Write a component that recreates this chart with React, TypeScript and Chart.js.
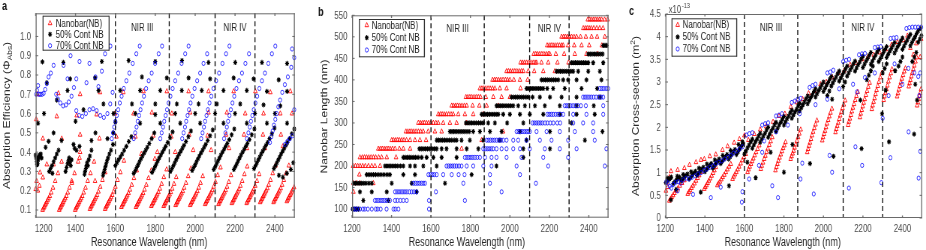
import React, { useEffect, useRef } from "react";
import { Chart, registerables } from "chart.js";
Chart.register(...registerables);

type P = [number, number];

// ---------------- shared axis data ----------------
const X_TICKS = [1200, 1400, 1600, 1800, 2000, 2200, 2400];
const X_LABELS = ["1200", "1400", "1600", "1800", "2000", "2200", "2400"];
const X_MIN = 1200;
const X_MAX = 2500;
const REGION_LINES = [1600, 1870, 2100, 2300];
const REGION_NAMES = ["NIR III", "NIR IV"];
const REGION_SPANS: P[] = [[1600, 1870], [2100, 2300]];
const SERIES_NAMES = ["Nanobar(NB)", "50% Cont NB", "70% Cont NB"];
const X_TITLE = "Resonance Wavelength (nm)";

// ---------------- panel a : absorption efficiency ----------------
const A_Y_TICKS = [0.1, 0.2, 0.3, 0.4, 0.5, 0.6, 0.7, 0.8, 0.9, 1.0];
const A_Y_LABELS = ["0.1", "0.2", "0.3", "0.4", "0.5", "0.6", "0.7", "0.8", "0.9", "1.0"];

const A_RED: P[] = [
  [1235,.10],[1239,.108],[1243,.116],[1247,.124],[1251,.132],[1255,.14],[1260,.15],[1265,.16],[1271,.172],[1278,.19],[1287,.215],[1298,.25],[1312,.29],[1330,.35],
  [1318,.10],[1322,.108],[1326,.116],[1330,.124],[1334,.132],[1338,.14],[1343,.15],[1348,.16],[1354,.172],[1361,.19],[1370,.215],[1381,.25],[1395,.29],[1413,.35],
  [1398,.10],[1402,.108],[1406,.116],[1410,.124],[1414,.132],[1418,.14],[1423,.15],[1428,.16],[1434,.172],[1441,.19],[1450,.215],[1461,.25],[1475,.29],[1493,.35],
  [1472,.105],[1476,.113],[1480,.121],[1484,.129],[1488,.137],[1492,.145],[1497,.155],[1502,.165],[1508,.177],[1515,.195],[1524,.22],[1535,.255],[1549,.295],
  [1548,.105],[1552,.113],[1556,.121],[1560,.129],[1564,.137],[1568,.145],[1573,.155],[1578,.165],[1584,.177],[1591,.195],[1600,.22],[1611,.255],[1625,.295],[1643,.355],
  [1630,.115],[1634,.123],[1638,.131],[1642,.139],[1646,.147],[1650,.155],[1655,.165],[1660,.175],[1666,.187],[1673,.205],[1682,.23],[1693,.265],[1707,.305],
  [1703,.115],[1707,.123],[1711,.131],[1715,.139],[1719,.147],[1723,.155],[1728,.165],[1733,.175],[1739,.187],[1746,.205],[1755,.23],[1766,.265],[1780,.305],[1798,.365],
  [1780,.12],[1784,.128],[1788,.136],[1792,.144],[1796,.152],[1800,.16],[1805,.17],[1810,.18],[1816,.192],[1823,.21],[1832,.235],[1843,.27],[1857,.31],
  [1842,.12],[1846,.128],[1850,.136],[1854,.144],[1858,.152],[1862,.16],[1867,.17],[1872,.18],[1878,.192],[1885,.21],[1894,.235],[1905,.27],
  [1902,.125],[1906,.133],[1910,.141],[1914,.149],[1918,.157],[1922,.165],[1927,.175],[1932,.185],[1938,.197],[1945,.215],[1954,.24],[1965,.275],[1979,.315],
  [1975,.125],[1979,.133],[1983,.141],[1987,.149],[1991,.157],[1995,.165],[2000,.175],[2005,.185],[2011,.197],[2018,.215],[2027,.24],[2038,.275],
  [2050,.13],[2054,.138],[2058,.146],[2062,.154],[2066,.162],[2070,.17],[2075,.18],[2080,.19],[2086,.202],[2093,.22],[2102,.245],[2113,.28],[2127,.32],
  [2117,.13],[2121,.138],[2125,.146],[2129,.154],[2133,.162],[2137,.17],[2142,.18],[2147,.19],[2153,.202],[2160,.22],[2169,.245],[2180,.28],
  [2184,.135],[2188,.143],[2192,.151],[2196,.159],[2200,.167],[2204,.175],[2209,.185],[2214,.195],[2220,.207],[2227,.225],[2236,.25],[2247,.285],[2261,.325],
  [2258,.135],[2262,.143],[2266,.151],[2270,.159],[2274,.167],[2278,.175],[2283,.185],[2288,.195],[2294,.207],[2301,.225],[2310,.25],[2321,.285],
  [2326,.14],[2330,.148],[2334,.156],[2338,.164],[2342,.172],[2346,.18],[2351,.19],[2356,.2],[2362,.212],[2369,.23],[2378,.255],[2389,.29],[2403,.33],
  [2393,.14],[2397,.148],[2401,.156],[2405,.164],[2409,.172],[2413,.18],[2418,.19],[2423,.2],[2429,.212],[2436,.23],[2445,.255],[2456,.29],[2470,.33],
  [2460,.145],[2464,.153],[2468,.161],[2472,.169],[2476,.177],[2480,.185],[2485,.195],[2490,.205],[2496,.217],
  [1200,.208],[1205,.25],[1211,.2],[1219,.225],[1222,.294],[1236,.268],[1256,.336],[1290,.336],[1382,.24],[1420,.37],[1423,.40],[1498,.25],
  [1730,.39],[1810,.40],[1900,.40],[1990,.41],[2080,.41],[2170,.42],[2260,.42],[2350,.42],[2440,.43],
  [1236,.47],[1331,.47],[1423,.49],[1520,.47],[1605,.48],[1700,.48],[1790,.485],[1880,.48],[1970,.49],[2062,.485],[2155,.49],[2245,.49],[2340,.49],[2430,.49],
  [1203,.57],[1306,.585],[1406,.59],[1506,.595],[1598,.6],[1691,.6],[1783,.605],[1883,.6],[1975,.605],[2067,.605],[2159,.605],[2251,.6],[2343,.6],[2427,.6],[2486,.6],
  [1209,.70],[1314,.705],[1423,.70],[1523,.71],[1640,.71],[1741,.715],[1858,.715],[1967,.715],[2067,.715],[2193,.715],[2302,.715],[2377,.71],[2477,.715],
];

const A_BLACK: P[] = [
  [1200,.385],[1203,.37],[1205,.35],[1207,.335],[1210,.34],[1213,.36],[1216,.375],[1219,.385],[1222,.38],[1226,.39],[1230,.37],
  [1268,.30],[1275,.315],[1282,.33],[1290,.35],[1298,.37],[1306,.39],[1315,.41],
  [1350,.30],[1355,.32],[1360,.34],[1364,.355],[1368,.37],[1372,.345],[1376,.33],[1380,.36],[1395,.42],[1405,.41],[1420,.43],
  [1445,.285],[1448,.30],[1452,.315],[1455,.33],[1458,.345],[1462,.33],[1466,.36],[1472,.38],[1480,.41],
  [1538,.28],[1542,.295],[1546,.31],[1550,.325],[1554,.34],[1558,.355],[1563,.37],[1570,.39],[1578,.41],[1588,.44],
  [1600,.33],[1608,.345],[1616,.36],[1625,.375],[1634,.39],[1644,.41],[1655,.43],[1667,.455],[1680,.48],
  [1692,.29],[1700,.305],[1707,.32],[1714,.335],[1721,.35],[1728,.365],[1736,.38],[1744,.395],[1752,.41],[1760,.425],[1770,.445],[1782,.47],[1795,.50],
  [1784,.295],[1792,.31],[1799,.325],[1806,.34],[1813,.355],[1820,.37],[1828,.385],[1836,.40],[1844,.415],[1852,.43],[1862,.45],[1874,.475],[1887,.505],
  [1876,.30],[1884,.315],[1891,.33],[1898,.345],[1905,.36],[1912,.375],[1920,.39],[1928,.405],[1936,.42],[1944,.435],[1954,.455],[1966,.48],[1979,.51],
  [1985,.305],[1993,.32],[2000,.335],[2007,.35],[2014,.365],[2021,.38],[2029,.395],[2037,.41],[2045,.425],[2053,.44],[2063,.46],[2075,.485],[2088,.515],
  [2093,.31],[2101,.325],[2108,.34],[2115,.355],[2122,.37],[2129,.385],[2137,.40],[2145,.415],[2153,.43],[2161,.445],[2171,.465],[2183,.49],[2196,.52],
  [2194,.31],[2202,.325],[2209,.34],[2216,.355],[2223,.37],[2230,.385],[2238,.40],[2246,.415],[2254,.43],[2262,.445],[2272,.465],[2284,.49],[2297,.52],
  [2295,.315],[2303,.33],[2310,.345],[2317,.36],[2324,.375],[2331,.39],[2339,.405],[2347,.42],[2355,.435],[2363,.45],[2373,.47],[2385,.495],[2398,.525],
  [2395,.315],[2403,.33],[2410,.345],[2417,.36],[2424,.375],[2431,.39],[2439,.405],[2447,.42],[2455,.435],[2463,.45],[2473,.47],[2485,.495],[2497,.52],
  [2420,.28],[2440,.27],[2460,.29],[2480,.31],[2492,.345],
  [1250,.425],[1265,.456],[1284,.29],[1290,.50],[1330,.46],[1390,.44],[1480,.46],[1500,.50],[1560,.47],[1590,.50],
  [1212,.55],[1242,.60],[1256,.76],[1234,.868],
  [1339,.865],[1532,.87],[1666,.875],[1800,.87],[1934,.875],[2067,.865],[2201,.865],[2335,.865],[2461,.86],
  [1373,.78],[1498,.785],[1733,.79],[1858,.785],[1967,.785],[2075,.78],[2193,.785],[2293,.78],[2419,.775],
  [1360,.72],[1515,.72],[1624,.72],[1724,.72],[1825,.72],[1933,.72],[2033,.72],[2142,.72],[2259,.72],[2360,.715],[2461,.715],
  [1306,.67],[1540,.65],[1683,.65],[1800,.65],[1908,.65],[2017,.65],[2109,.65],[2226,.65],[2343,.645],[2427,.64],
  [1440,.62],[1590,.60],[1700,.60],[1800,.595],[1900,.60],[2000,.60],[2100,.60],[2200,.60],[2300,.60],[2400,.60],
  [1400,.56],[1600,.555],[1724,.55],[1825,.55],[1925,.55],[2025,.55],[2142,.55],[2259,.55],[2360,.55],[2461,.55],
];

const A_BLUE: P[] = [
  [1203,.70],[1207,.72],[1212,.745],[1217,.70],[1224,.70],[1232,.70],[1240,.705],[1248,.725],[1256,.755],[1265,.79],[1276,.81],[1290,.85],
  [1303,.70],[1312,.675],[1324,.655],[1338,.64],[1352,.645],[1366,.66],[1380,.69],[1392,.735],[1404,.78],[1420,.87],[1375,.90],
  [1404,.615],[1418,.59],[1434,.585],[1452,.60],[1470,.62],[1488,.625],[1506,.615],[1524,.59],[1542,.58],[1560,.60],[1574,.65],[1586,.71],
  [1455,.76],[1470,.86],[1500,.79],[1515,.74],[1532,.82],[1548,.91],[1575,.95],[1360,.78],[1340,.85],
  [1582,.47],[1588,.50],[1594,.53],[1600,.56],[1607,.59],[1614,.62],[1622,.655],[1631,.69],[1642,.73],[1655,.77],[1670,.81],[1687,.86],[1705,.91],[1722,.95],
  [1692,.47],[1699,.50],[1706,.53],[1712,.56],[1719,.59],[1726,.62],[1734,.655],[1743,.69],[1754,.73],[1767,.77],[1782,.81],[1799,.86],[1817,.91],[1834,.95],
  [1825,.47],[1832,.50],[1839,.53],[1845,.56],[1852,.59],[1859,.62],[1867,.655],[1876,.69],[1887,.73],[1900,.77],[1915,.81],[1932,.86],[1950,.91],[1967,.95],
  [1935,.47],[1942,.50],[1949,.53],[1955,.56],[1962,.59],[1969,.62],[1977,.655],[1986,.69],[1997,.73],[2010,.77],[2025,.81],[2042,.86],[2060,.91],
  [2030,.47],[2037,.50],[2044,.53],[2050,.56],[2057,.59],[2064,.62],[2072,.655],[2081,.69],[2092,.73],[2105,.77],[2120,.81],[2137,.86],[2155,.91],[2172,.95],
  [2145,.47],[2152,.50],[2159,.53],[2165,.56],[2172,.59],[2179,.62],[2187,.655],[2196,.69],[2207,.73],[2220,.77],[2235,.81],[2252,.86],[2270,.91],
  [2260,.47],[2267,.50],[2274,.53],[2280,.56],[2287,.59],[2294,.62],[2302,.655],[2311,.69],[2322,.73],[2335,.77],[2350,.81],[2367,.86],[2385,.91],[2402,.95],
  [2375,.45],[2382,.48],[2389,.51],[2395,.54],[2402,.57],[2409,.60],[2417,.635],[2426,.67],[2437,.71],[2450,.75],[2465,.79],[2482,.84],[2497,.89],
  [2450,.44],[2462,.455],[2475,.47],[2488,.485],[2486,.935],[2497,.62],
];

// ---------------- panel b : nanobar length ----------------
const B_Y_TICKS = [100, 150, 200, 250, 300, 350, 400, 450, 500, 550];
const B_Y_LABELS = ["100", "150", "200", "250", "300", "350", "400", "450", "500", "550"];

const B_RED_ROWS: [number, number[]][] = [
  [140, [1207]],
  [160, [1207, 1222, 1240, 1308]],
  [180, [1237]],
  [200, [1205, 1217, 1229, 1241, 1254, 1267, 1283, 1300, 1316, 1342]],
  [220, [1240, 1252, 1263, 1274, 1285, 1296, 1308, 1320, 1335, 1350, 1376, 1423]],
  [240, [1333, 1343, 1353, 1363, 1373, 1383, 1393, 1405, 1418, 1440, 1460, 1494, 1755]],
  [260, [1401, 1411, 1421, 1431, 1441, 1452, 1463, 1476, 1494, 1519, 1544, 1575, 1857]],
  [280, [1473, 1483, 1493, 1503, 1513, 1524, 1536, 1548, 1561, 1586, 1620, 1654, 1966]],
  [300, [1536, 1546, 1556, 1566, 1577, 1588, 1600, 1612, 1625, 1637, 1662, 1696, 1730, 1780]],
  [320, [1637, 1647, 1657, 1667, 1678, 1690, 1702, 1713, 1738, 1772, 1814, 1865]],
  [340, [1705, 1715, 1725, 1735, 1746, 1757, 1769, 1781, 1811, 1845, 1882, 1941]],
  [360, [1777, 1787, 1797, 1807, 1818, 1829, 1840, 1851, 1878, 1916, 1958, 2000]],
  [380, [1848, 1858, 1868, 1878, 1889, 1900, 1912, 1924, 1949, 1983, 2054]],
  [400, [1912, 1922, 1932, 1943, 1954, 1965, 1977, 1988, 2000, 2020, 2051, 2090]],
  [420, [1983, 1993, 2003, 2014, 2025, 2036, 2047, 2058, 2068, 2093, 2123, 2169, 2228]],
  [440, [2054, 2064, 2074, 2085, 2096, 2107, 2118, 2128, 2135, 2160, 2194, 2241, 2297]],
  [460, [2121, 2131, 2141, 2151, 2162, 2173, 2184, 2195, 2202, 2233, 2275, 2329, 2388, 2444]],
  [480, [2189, 2199, 2209, 2219, 2229, 2240, 2251, 2262, 2270, 2295, 2326, 2363, 2402, 2466]],
  [500, [2262, 2272, 2282, 2292, 2302, 2313, 2325, 2338, 2358, 2385, 2414, 2442, 2481]],
  [520, [2372, 2382, 2392, 2402, 2412, 2425, 2440, 2455, 2472]],
  [540, [2395, 2405, 2415, 2425, 2435, 2445, 2455, 2465, 2480, 2495]],
];

const B_BLACK_ROWS: [number, number[]][] = [
  [100, [1203, 1212, 1222, 1232]],
  [120, [1257, 1384]],
  [140, [1240, 1300, 1376, 1527]],
  [160, [1207, 1217, 1227, 1237, 1247, 1258, 1270, 1285, 1300, 1401, 1502, 1671]],
  [180, [1274, 1285, 1296, 1308, 1320, 1333, 1347, 1362, 1378, 1392, 1460, 1519, 1806]],
  [200, [1367, 1377, 1387, 1397, 1408, 1419, 1431, 1445, 1460, 1494, 1519, 1561, 1629, 1932]],
  [220, [1460, 1470, 1480, 1490, 1500, 1511, 1522, 1535, 1553, 1578, 1612, 1654, 1730, 2068]],
  [240, [1541, 1551, 1561, 1571, 1582, 1593, 1605, 1617, 1629, 1654, 1679, 1730, 1781, 1840, 2068, 2203]],
  [260, [1629, 1639, 1649, 1659, 1670, 1681, 1693, 1705, 1718, 1730, 1755, 1797, 1865, 1949, 2084, 2380]],
  [280, [1696, 1706, 1716, 1726, 1737, 1748, 1759, 1770, 1782, 1794, 1814, 1848, 1899, 1958, 2051, 2203, 2469]],
  [300, [1777, 1787, 1797, 1807, 1818, 1829, 1841, 1853, 1865, 1890, 1924, 1986, 2068, 2312]],
  [320, [1857, 1867, 1877, 1887, 1898, 1909, 1920, 1931, 1941, 1966, 2000, 2051, 2101, 2169, 2253, 2338, 2430]],
  [340, [1932, 1942, 1952, 1962, 1972, 1983, 1994, 2005, 2017, 2042, 2076, 2127, 2177, 2253, 2338, 2425]],
  [360, [2008, 2018, 2028, 2038, 2048, 2059, 2070, 2082, 2093, 2115, 2152, 2203, 2262, 2338, 2456]],
  [380, [2084, 2094, 2104, 2114, 2124, 2135, 2146, 2157, 2169, 2189, 2219, 2278, 2363, 2442]],
  [400, [2160, 2170, 2180, 2190, 2200, 2211, 2222, 2233, 2245, 2270, 2295, 2338, 2388, 2464]],
  [420, [2236, 2246, 2256, 2266, 2276, 2287, 2298, 2310, 2321, 2346, 2397, 2456]],
  [440, [2312, 2322, 2332, 2342, 2352, 2363, 2374, 2385, 2397, 2422, 2473]],
  [460, [2397, 2407, 2417, 2427, 2437, 2448, 2459, 2470]],
  [480, [2473, 2482, 2491]],
];

const B_BLUE_ROWS: [number, number[]][] = [
  [100, [1207, 1217, 1225, 1240, 1255, 1265, 1280, 1300, 1320, 1330, 1345, 1375, 1410, 1420, 1435, 1590]],
  [120, [1316, 1326, 1336, 1346, 1356, 1366, 1376, 1392, 1418, 1430, 1445, 1460, 1477, 1590, 1772]],
  [140, [1418, 1428, 1438, 1448, 1458, 1468, 1478, 1490, 1502, 1514, 1527, 1625, 1958]],
  [160, [1511, 1521, 1531, 1541, 1551, 1561, 1570, 1764, 1899, 2132]],
  [180, [1587, 1597, 1607, 1617, 1629, 1662, 1705, 1740, 1770, 1899, 2051]],
  [200, [1679, 1689, 1699, 1709, 1719, 1730, 1742, 1755, 1781, 1814, 1865, 1907, 2034, 2194, 2481]],
  [220, [1772, 1782, 1792, 1802, 1812, 1823, 1835, 1848, 1874, 1907, 1932, 1983, 2059, 2169, 2295]],
  [240, [1865, 1875, 1885, 1895, 1905, 1915, 1932, 1958, 1983, 2017, 2051, 2101, 2177, 2253, 2338, 2489]],
  [260, [1882, 1892, 1902, 1912, 1922, 1933, 1944, 1955, 1966, 1983, 2017, 2042, 2084, 2152, 2211, 2295, 2430]],
  [280, [2034, 2044, 2054, 2064, 2074, 2084, 2093, 2101, 2135, 2186, 2253, 2329, 2422]],
  [300, [2115, 2125, 2135, 2145, 2155, 2165, 2178, 2190, 2205, 2220, 2240, 2255, 2321, 2371, 2422]],
  [320, [2190, 2200, 2210, 2220, 2232, 2244, 2257, 2270, 2321, 2388, 2473]],
  [340, [2278, 2288, 2298, 2308, 2320, 2332, 2345, 2360, 2385, 2473]],
  [360, [2371, 2381, 2391, 2401, 2412, 2424, 2437, 2450, 2462, 2473]],
  [380, [2456, 2466, 2476, 2488, 2498]],
];

// ---------------- panel c : absorption cross-section (x1e-13 m^2) ----------------
const C_Y_TICKS = [0, 0.5, 1, 1.5, 2, 2.5, 3, 3.5, 4, 4.5];
const C_Y_LABELS = ["0", "0.5", "1", "1.5", "2", "2.5", "3", "3.5", "4", "4.5"];

const C_RED: P[] = [
  [1220,.38],[1226,.42],[1232,.46],[1239,.50],[1246,.55],[1254,.60],[1263,.65],[1273,.71],[1284,.77],[1296,.83],
  [1313,.53],[1319,.57],[1325,.61],[1332,.66],[1339,.71],[1347,.76],[1355,.82],[1363,.88],[1371,.94],[1380,1.01],
  [1397,.64],[1402,.68],[1408,.72],[1414,.77],[1420,.82],[1427,.87],[1434,.93],[1441,.99],[1448,1.05],[1455,1.12],
  [1463,.72],[1469,.76],[1476,.80],[1483,.85],[1490,.90],[1498,.95],[1506,1.01],[1514,1.07],[1522,1.13],[1531,1.19],
  [1540,.86],[1546,.91],[1552,.96],[1559,1.01],[1566,1.07],[1573,1.13],[1581,1.20],[1589,1.27],[1598,1.34],[1607,1.41],
  [1616,1.01],[1621,1.07],[1627,1.13],[1633,1.19],[1639,1.25],[1645,1.31],[1652,1.38],[1659,1.45],[1667,1.52],[1675,1.60],
  [1683,1.08],[1688,1.15],[1694,1.22],[1700,1.30],[1706,1.37],[1712,1.45],[1719,1.53],[1726,1.61],[1733,1.69],[1741,1.78],
  [1757,1.05],[1762,1.12],[1767,1.19],[1772,1.26],[1778,1.33],[1784,1.40],[1790,1.47],[1796,1.54],[1802,1.60],[1808,1.67],
  [1834,1.30],[1839,1.36],[1844,1.42],[1849,1.48],[1854,1.55],[1860,1.62],[1866,1.70],[1872,1.78],[1878,1.86],[1885,1.95],
  [1918,1.45],[1922,1.52],[1927,1.59],[1932,1.66],[1937,1.74],[1942,1.82],[1948,1.90],[1954,1.98],[1960,2.06],[1967,2.15],
  [1994,1.71],[1998,1.78],[2003,1.85],[2008,1.92],[2013,2.00],[2018,2.08],[2024,2.16],[2030,2.24],[2036,2.32],[2043,2.41],
  [2061,1.89],[2065,1.96],[2070,2.03],[2075,2.10],[2080,2.18],[2085,2.26],[2091,2.34],[2097,2.42],[2103,2.50],[2110,2.59],
  [2125,2.05],[2129,2.12],[2134,2.19],[2139,2.27],[2144,2.35],[2149,2.43],[2155,2.51],[2161,2.60],[2167,2.69],[2174,2.78],
  [2185,2.22],[2189,2.30],[2194,2.38],[2199,2.46],[2204,2.54],[2209,2.62],[2215,2.71],[2221,2.80],[2227,2.89],[2234,2.98],
  [2245,2.40],[2249,2.48],[2254,2.56],[2259,2.64],[2264,2.73],[2269,2.82],[2275,2.91],[2281,3.00],[2288,3.10],[2296,3.20],
  [2305,2.60],[2309,2.68],[2314,2.76],[2319,2.84],[2324,2.92],[2329,3.01],[2335,3.10],[2341,3.19],[2347,3.28],
  [2373,2.68],[2377,2.75],[2382,2.83],[2387,2.91],[2392,2.99],[2397,3.07],[2403,3.15],[2409,3.23],[2415,3.30],
  [2432,2.90],[2436,2.97],[2440,3.04],[2445,3.12],[2450,3.20],[2455,3.28],[2460,3.36],[2466,3.45],[2472,3.54],
  [2474,2.48],[2478,2.55],[2482,2.62],[2486,2.69],[2490,2.76],[2494,2.84],
  [1203,.60],[1205,.79],[1212,.68],[1220,.90],[1228,1.03],[1262,1.06],[1296,1.10],[1322,1.17],[1355,1.23],[1380,1.28],[1397,1.30],[1425,1.36],[1455,1.40],[1489,1.50],[1515,1.58],[1548,1.66],[1575,1.74],[1600,1.82],
  [1620,1.72],[1650,1.85],[1680,1.95],[1710,2.02],[1745,2.12],[1775,2.25],[1805,2.30],[1835,2.45],[1865,2.55],[1895,2.62],[1925,2.75],[1955,2.80],[1985,2.95],[2015,3.00],[2045,3.10],[2075,3.20],[2105,3.25],[2135,3.38],[2165,3.42],[2195,3.50],[2225,3.55],[2255,3.60],[2285,3.65],[2315,3.72],[2345,3.82],[2375,3.88],[2405,3.92],[2425,4.02],[2440,3.75],[2455,3.60],[2470,3.85],[2490,3.55],[2495,3.95],
];

const C_BLACK: P[] = [
  [1202,.78],[1208,.81],[1214,.84],[1220,.86],[1226,.88],
  [1240,.76],[1248,.80],[1256,.84],[1264,.87],[1272,.90],
  [1280,.82],[1288,.86],[1296,.90],[1304,.94],[1312,.97],
  [1320,.86],[1328,.90],[1336,.95],[1344,.99],[1352,1.03],
  [1360,.94],[1368,.99],[1376,1.03],[1384,1.08],[1392,1.12],
  [1400,1.02],[1408,1.07],[1416,1.11],[1424,1.16],[1432,1.20],
  [1440,1.10],[1448,1.15],[1456,1.20],[1464,1.25],[1472,1.30],
  [1480,1.20],[1488,1.25],[1496,1.30],[1504,1.35],[1512,1.40],
  [1520,1.30],[1528,1.35],[1536,1.40],[1544,1.46],[1552,1.51],
  [1560,1.40],[1568,1.46],[1576,1.52],[1584,1.58],[1592,1.64],
  [1210,.88],[1230,.90],[1260,.92],[1290,.96],[1330,1.02],[1370,1.10],[1410,1.19],[1450,1.28],[1490,1.38],[1530,1.49],[1570,1.62],[1590,1.68],
  [1600,1.41],[1608,1.48],[1616,1.55],[1624,1.61],[1632,1.68],[1640,1.74],
  [1640,1.54],[1648,1.61],[1656,1.68],[1664,1.74],[1672,1.81],[1680,1.87],
  [1680,1.67],[1688,1.74],[1696,1.81],[1704,1.87],[1712,1.94],[1720,2.00],
  [1720,1.78],[1728,1.85],[1736,1.92],[1744,1.98],[1752,2.05],[1760,2.11],
  [1760,1.91],[1768,1.98],[1776,2.05],[1784,2.11],[1792,2.18],[1800,2.24],
  [1800,2.05],[1808,2.12],[1816,2.19],[1824,2.25],[1832,2.32],[1840,2.38],
  [1840,2.20],[1848,2.27],[1856,2.34],[1864,2.40],[1872,2.47],[1880,2.53],
  [1880,2.36],[1888,2.43],[1896,2.50],[1904,2.56],[1912,2.63],[1920,2.69],
  [1920,2.52],[1928,2.59],[1936,2.66],[1944,2.72],[1952,2.79],[1960,2.85],
  [1960,2.67],[1968,2.74],[1976,2.81],[1984,2.87],[1992,2.94],[2000,3.00],
  [2000,2.79],[2008,2.86],[2016,2.93],[2024,2.99],[2032,3.06],[2040,3.12],
  [2040,2.91],[2048,2.98],[2056,3.05],[2064,3.11],[2072,3.18],[2080,3.24],
  [2080,3.02],[2088,3.09],[2096,3.16],[2104,3.22],[2112,3.29],[2120,3.35],
  [2120,3.13],[2128,3.20],[2136,3.27],[2144,3.33],[2152,3.40],[2160,3.46],
  [2160,3.24],[2168,3.31],[2176,3.38],[2184,3.44],[2192,3.51],[2200,3.57],
  [2200,3.32],[2208,3.39],[2216,3.46],[2224,3.52],[2232,3.59],[2240,3.65],
  [2240,3.39],[2248,3.46],[2256,3.53],[2264,3.59],[2272,3.66],[2280,3.72],
  [2280,3.45],[2288,3.52],[2296,3.59],[2304,3.65],[2312,3.72],[2320,3.78],
  [2320,3.54],[2328,3.61],[2336,3.68],[2344,3.74],[2352,3.81],[2360,3.87],
  [2360,3.64],[2368,3.71],[2376,3.78],[2384,3.84],[2392,3.91],[2400,3.97],
  [2400,3.72],[2408,3.79],[2416,3.86],[2424,3.92],[2432,3.99],[2440,4.05],
  [2440,3.80],[2448,3.87],[2456,3.94],[2464,4.00],[2472,4.07],[2480,4.13],
  [2480,3.88],[2488,3.95],[2496,4.02],
  [2020,2.70],[2030,2.80],[2100,2.90],[2110,3.00],[2220,3.05],[2230,3.15],[2240,3.25],[2250,3.35],[2300,3.20],[2310,3.30],[2320,3.40],
  [2380,3.35],[2390,3.45],[2400,3.55],[2450,3.45],[2460,3.55],[2470,3.65],[2490,4.18],
  [1228,.40],[1254,.63],[1379,.57],[1522,.71],[1615,1.23],[1657,.89],[1733,1.45],[1800,1.01],[1843,1.62],[1932,1.20],[2051,1.36],[2193,1.53],[2332,1.68],[2459,1.85],
  [2044,2.62],[2187,2.60],[2297,2.30],[2315,2.82],[2363,3.25],[2465,2.95],[2474,2.60],
];

const C_BLUE: P[] = [
  [1205,.80],[1214,.77],[1222,.70],[1230,.66],[1240,.74],[1252,.79],[1265,.80],[1278,.77],[1290,.84],[1305,.88],[1320,.86],[1335,.90],[1350,.93],[1365,.97],[1380,1.0],
  [1395,1.05],[1410,1.08],[1425,1.12],[1440,1.15],[1455,1.20],[1470,1.23],[1485,1.26],[1500,1.30],[1515,1.34],[1530,1.38],[1545,1.43],[1560,1.48],[1575,1.52],[1590,1.57],
  [1262,.60],[1340,.52],[1430,.45],[1480,.68],[1587,.35],[1590,.58],[1624,.86],[1674,1.16],[1690,1.45],[1741,.71],[1770,.45],[1884,.86],[1893,1.21],[1951,.53],
  [2031,1.38],[2044,1.01],[2129,.66],[2162,1.57],[2196,1.16],[2293,.78],[2339,1.33],[2431,1.90],[2490,1.47],[2482,.88],
  [1610,1.83],[1625,1.86],[1640,1.88],[1690,2.05],[1705,2.08],[1720,2.10],[1760,2.25],[1775,2.27],[1790,2.30],[1840,2.55],[1855,2.58],[1870,2.62],[1885,2.64],
  [1930,2.88],[1945,2.92],[1960,2.95],[2020,3.20],[2035,3.22],[2050,3.26],[2100,3.45],[2115,3.48],[2130,3.50],[2180,3.60],[2195,3.62],[2210,3.63],
  [2260,3.76],[2275,3.77],[2290,3.78],[2340,3.96],[2355,3.97],[2370,3.98],[2420,4.18],[2435,4.20],[2450,4.21],[2465,4.21],[2480,4.21],[2495,4.21],
  [1700,1.70],[1760,1.90],[1820,2.05],[1880,2.30],[1960,2.50],[2020,2.62],[2080,2.85],[2150,2.95],[2170,2.78],[2210,3.10],[2260,3.20],[2300,2.20],[2330,2.70],
  [2360,3.40],[2400,2.95],[2430,3.30],[2460,3.20],[2480,3.12],[2485,2.70],[2490,3.20],
];

// ---------------- layout / drawing ----------------
const S = 0.75; // the reference figure is horizontally squeezed
const FONT = '"Liberation Sans", Arial, Helvetica, sans-serif';
const H = 250;

type Part = { t: string; k: number; dy: number };
interface Spec {
  letter: string; letterX: number; letterY: number;
  left: number; width: number;
  plot: { l: number; r: number; t: number; b: number };
  yMin: number; yMax: number; yTicks: number[]; yLabels: string[];
  yTitle: Part[]; yTitleX: number; xTitleX: number;
  firstShift: number;
  legend: { x0: number; x1: number; y0: number; y1: number; mx: number; tx: number; rows: number[] };
  nirY: number;
  exponent?: boolean;
  red: P[]; black: P[]; blue: P[];
}

const rowsToPoints = (rows: [number, number[]][]): P[] =>
  rows.flatMap(([len, xs]) => xs.map((x) => [x, len] as P));

function marker(ctx: CanvasRenderingContext2D, kind: number, x: number, y: number) {
  ctx.beginPath();
  if (kind === 0) {
    const r = 2.8;
    for (let i = 0; i < 3; i++) {
      const a = (i * 2 * Math.PI) / 3;
      const px = x + Math.sin(a) * r, py = y - Math.cos(a) * r;
      if (i === 0) ctx.moveTo(px, py); else ctx.lineTo(px, py);
    }
    ctx.closePath();
    ctx.strokeStyle = "#ff0000"; ctx.lineWidth = 0.9; ctx.stroke();
  } else if (kind === 1) {
    const r = 2.6;
    for (let i = 0; i < 4; i++) {
      const a = (i * Math.PI) / 4;
      ctx.moveTo(x - Math.cos(a) * r, y - Math.sin(a) * r);
      ctx.lineTo(x + Math.cos(a) * r, y + Math.sin(a) * r);
    }
    ctx.strokeStyle = "#000"; ctx.lineWidth = 1.1; ctx.stroke();
  } else {
    ctx.arc(x, y, 2.1, 0, Math.PI * 2);
    ctx.strokeStyle = "#0000ff"; ctx.lineWidth = 0.8; ctx.stroke();
  }
}

function drawParts(ctx: CanvasRenderingContext2D, parts: Part[], size: number) {
  let w = 0;
  const ws = parts.map((p) => { ctx.font = `${size * p.k}px ${FONT}`; const m = ctx.measureText(p.t).width; w += m; return m; });
  let x = -w / 2;
  parts.forEach((p, i) => {
    ctx.font = `${size * p.k}px ${FONT}`;
    ctx.fillText(p.t, x, p.dy * size);
    x += ws[i];
  });
}

function makeDecor(spec: Spec) {
  const cx = (ox: number) => (ox - spec.left) / S;
  return {
    id: "decor" + spec.letter,
    afterDatasetsDraw(chart: any) {
      const ctx: CanvasRenderingContext2D = chart.ctx;
      const ca = chart.chartArea;
      const xs = chart.scales.x, ys = chart.scales.y;
      ctx.save();
      ctx.strokeStyle = "#000"; ctx.lineWidth = 1 / S; ctx.setLineDash([5, 3]);
      for (const v of REGION_LINES) {
        const px = xs.getPixelForValue(v);
        ctx.beginPath(); ctx.moveTo(px, ca.top); ctx.lineTo(px, ca.bottom); ctx.stroke();
      }
      ctx.setLineDash([]);
      ctx.strokeStyle = "#6a6a6a";
      ctx.lineWidth = 1;
      ctx.beginPath(); ctx.moveTo(ca.left, ca.top + 0.5); ctx.lineTo(ca.right, ca.top + 0.5);
      ctx.moveTo(ca.left, ca.bottom - 0.5); ctx.lineTo(ca.right, ca.bottom - 0.5); ctx.stroke();
      ctx.lineWidth = 1 / S;
      ctx.beginPath(); ctx.moveTo(ca.left + 0.5 / S, ca.top); ctx.lineTo(ca.left + 0.5 / S, ca.bottom);
      ctx.moveTo(ca.right - 0.5 / S, ca.top); ctx.lineTo(ca.right - 0.5 / S, ca.bottom); ctx.stroke();
      const tl = 2.6;
      ctx.lineWidth = 1 / S;
      ctx.beginPath();
      for (const t of xs.ticks) {
        const px = xs.getPixelForValue(t.value);
        ctx.moveTo(px, ca.bottom); ctx.lineTo(px, ca.bottom - tl);
        ctx.moveTo(px, ca.top); ctx.lineTo(px, ca.top + tl);
      }
      ctx.stroke();
      ctx.lineWidth = 1;
      ctx.beginPath();
      for (const t of ys.ticks) {
        const py = ys.getPixelForValue(t.value);
        ctx.moveTo(ca.left, py); ctx.lineTo(ca.left + tl / S, py);
        ctx.moveTo(ca.right, py); ctx.lineTo(ca.right - tl / S, py);
      }
      ctx.stroke();
      ctx.fillStyle = "#4a4a4a";
      ctx.font = `10.5px ${FONT}`;
      ctx.textAlign = "center"; ctx.textBaseline = "middle";
      xs.ticks.forEach((t: any, i: number) => {
        const idx = X_TICKS.indexOf(t.value);
        let px = xs.getPixelForValue(t.value);
        if (i === 0) px += spec.firstShift / S;
        ctx.fillText(X_LABELS[idx], px, 229.5);
      });
      ctx.textAlign = "right";
      ys.ticks.forEach((t: any) => {
        const idx = spec.yTicks.indexOf(t.value);
        ctx.fillText(spec.yLabels[idx], ca.left - 4.6 / S, ys.getPixelForValue(t.value) + 0.5);
      });
      ctx.fillStyle = "#222"; ctx.textAlign = "center"; ctx.font = `10.5px ${FONT}`;
      REGION_SPANS.forEach((sp, i) => {
        const px = (xs.getPixelForValue(sp[0]) + xs.getPixelForValue(sp[1])) / 2;
        ctx.fillText(REGION_NAMES[i], px, spec.nirY);
      });
      const lg = spec.legend;
      ctx.fillStyle = "#fff";
      ctx.fillRect(cx(lg.x0), lg.y0, cx(lg.x1) - cx(lg.x0), lg.y1 - lg.y0);
      ctx.strokeStyle = "#333"; ctx.lineWidth = 1;
      ctx.beginPath(); ctx.moveTo(cx(lg.x0), lg.y0 + 0.5); ctx.lineTo(cx(lg.x1), lg.y0 + 0.5);
      ctx.moveTo(cx(lg.x0), lg.y1 - 0.5); ctx.lineTo(cx(lg.x1), lg.y1 - 0.5); ctx.stroke();
      ctx.lineWidth = 1 / S;
      ctx.beginPath(); ctx.moveTo(cx(lg.x0), lg.y0); ctx.lineTo(cx(lg.x0), lg.y1);
      ctx.moveTo(cx(lg.x1), lg.y0); ctx.lineTo(cx(lg.x1), lg.y1); ctx.stroke();
      lg.rows.forEach((ry, i) => {
        marker(ctx, i, cx(lg.mx), ry);
        ctx.fillStyle = "#222"; ctx.textAlign = "left"; ctx.textBaseline = "middle";
        ctx.font = `10.5px ${FONT}`;
        ctx.fillText(SERIES_NAMES[i], cx(lg.tx), ry + 0.5);
      });
      ctx.fillStyle = "#262626"; ctx.textAlign = "center"; ctx.textBaseline = "alphabetic";
      ctx.font = `12px ${FONT}`;
      ctx.fillText(X_TITLE, cx(spec.xTitleX), 245.5);
      ctx.save();
      ctx.translate(cx(spec.yTitleX), (spec.plot.t + spec.plot.b) / 2);
      ctx.rotate(-Math.PI / 2);
      ctx.textAlign = "left"; ctx.textBaseline = "middle";
      drawParts(ctx, spec.yTitle, 12);
      ctx.restore();
      ctx.fillStyle = "#111"; ctx.textAlign = "left"; ctx.textBaseline = "alphabetic";
      ctx.font = `bold 12px ${FONT}`;
      ctx.fillText(spec.letter, cx(spec.letterX), spec.letterY);
      if (spec.exponent) {
        ctx.fillStyle = "#444";
        ctx.font = `10px ${FONT}`;
        ctx.fillText("x10", cx(668.8), 12.6);
        ctx.font = `7.5px ${FONT}`;
        ctx.fillText("-13", cx(681.8), 8.2);
      }
      ctx.restore();
    },
  };
}

function buildConfig(spec: Spec, cw: number): any {
  const mk = (d: P[]) => d.map(([x, y]) => ({ x, y }));
  return {
    type: "scatter",
    data: {
      datasets: [
        { label: SERIES_NAMES[0], data: mk(spec.red), order: 3, pointStyle: "triangle", pointRadius: 2.8, pointBorderColor: "#ff0000", pointBackgroundColor: "rgba(0,0,0,0)", pointBorderWidth: 0.9, clip: 4 },
        { label: SERIES_NAMES[1], data: mk(spec.black), order: 2, pointStyle: "star", pointRadius: 2.6, pointBorderColor: "#000000", pointBackgroundColor: "rgba(0,0,0,0)", pointBorderWidth: 1.1, clip: 4 },
        { label: SERIES_NAMES[2], data: mk(spec.blue), order: 1, pointStyle: "circle", pointRadius: 2.1, pointBorderColor: "#0000ff", pointBackgroundColor: "rgba(0,0,0,0)", pointBorderWidth: 0.8, clip: 4 },
      ],
    },
    options: {
      animation: false,
      responsive: false,
      devicePixelRatio: 1,
      events: [],
      layout: { padding: { left: 0, top: spec.plot.t, bottom: 0, right: cw - (spec.plot.r - spec.left) / S } },
      plugins: { legend: { display: false }, tooltip: { enabled: false } },
      scales: {
        x: {
          type: "linear", min: X_MIN, max: X_MAX,
          afterBuildTicks: (s: any) => { s.ticks = X_TICKS.map((v) => ({ value: v })); },
          afterFit: (s: any) => { s.height = H - spec.plot.b; },
          grid: { display: false, drawTicks: false }, border: { display: false }, ticks: { display: false },
        },
        y: {
          type: "linear", min: spec.yMin, max: spec.yMax,
          afterBuildTicks: (s: any) => { s.ticks = spec.yTicks.map((v) => ({ value: v })); },
          afterFit: (s: any) => { s.width = (spec.plot.l - spec.left) / S; },
          grid: { display: false, drawTicks: false }, border: { display: false }, ticks: { display: false },
        },
      },
    },
    plugins: [makeDecor(spec)],
  };
}

const SPECS: Spec[] = [
  {
    letter: "a", letterX: 2, letterY: 9.8, left: 0, width: 310,
    plot: { l: 35.6, r: 294.6, t: 13.3, b: 217.7 },
    yMin: 0.06, yMax: 1.12, yTicks: A_Y_TICKS, yLabels: A_Y_LABELS,
    yTitle: [{ t: "Absorption Efficiency (Φ", k: 1, dy: 0 }, { t: "Abs", k: 0.7, dy: 0.28 }, { t: ")", k: 1, dy: 0 }],
    yTitleX: 7.5, xTitleX: 149, firstShift: 8,
    legend: { x0: 43, x1: 109, y0: 15.7, y1: 50.7, mx: 50, tx: 55.7, rows: [23.3, 34.3, 45.7] },
    nirY: 28.5,
    red: A_RED, black: A_BLACK, blue: A_BLUE,
  },
  {
    letter: "b", letterX: 318, letterY: 15.5, left: 310, width: 310,
    plot: { l: 352, r: 608.3, t: 15.3, b: 217.7 },
    yMin: 80, yMax: 550, yTicks: B_Y_TICKS, yLabels: B_Y_LABELS,
    yTitle: [{ t: "Nanobar Length (nm)", k: 1, dy: 0 }],
    yTitleX: 324.7, xTitleX: 466.7, firstShift: 0,
    legend: { x0: 359.3, x1: 424.3, y0: 19, y1: 57.3, mx: 366.7, tx: 371.7, rows: [25.3, 37.7, 50] },
    nirY: 29,
    red: rowsToPoints(B_RED_ROWS), black: rowsToPoints(B_BLACK_ROWS), blue: rowsToPoints(B_BLUE_ROWS),
  },
  {
    letter: "c", letterX: 629, letterY: 15, left: 620, width: 306,
    plot: { l: 665.4, r: 922.9, t: 14, b: 218 },
    yMin: 0, yMax: 4.5, yTicks: C_Y_TICKS, yLabels: C_Y_LABELS,
    yTitle: [{ t: "Absorption Cross-section (m", k: 1, dy: 0 }, { t: "2", k: 0.7, dy: -0.3 }, { t: ")", k: 1, dy: 0 }],
    yTitleX: 636, xTitleX: 782.7, firstShift: 0,
    legend: { x0: 672, x1: 736.7, y0: 18.3, y1: 56.7, mx: 677.7, tx: 682.7, rows: [25, 36.9, 49] },
    nirY: 28, exponent: true,
    red: C_RED, black: C_BLACK, blue: C_BLUE,
  },
];

function Panel({ spec }: { spec: Spec }) {
  const ref = useRef<HTMLCanvasElement>(null);
  const cw = Math.round(spec.width / S);
  useEffect(() => {
    const chart = new Chart(ref.current as HTMLCanvasElement, buildConfig(spec, cw));
    return () => chart.destroy();
  }, []);
  return (
    <canvas
      ref={ref}
      width={cw}
      height={H}
      style={{ position: "absolute", left: spec.left, top: 0, width: spec.width, height: H }}
    />
  );
}

export default function App() {
  return (
    <div style={{ position: "absolute", left: 0, top: 0, width: 926, height: H, background: "#fff", overflow: "hidden" }}>
      {SPECS.map((s) => (
        <Panel key={s.letter} spec={s} />
      ))}
    </div>
  );
}
